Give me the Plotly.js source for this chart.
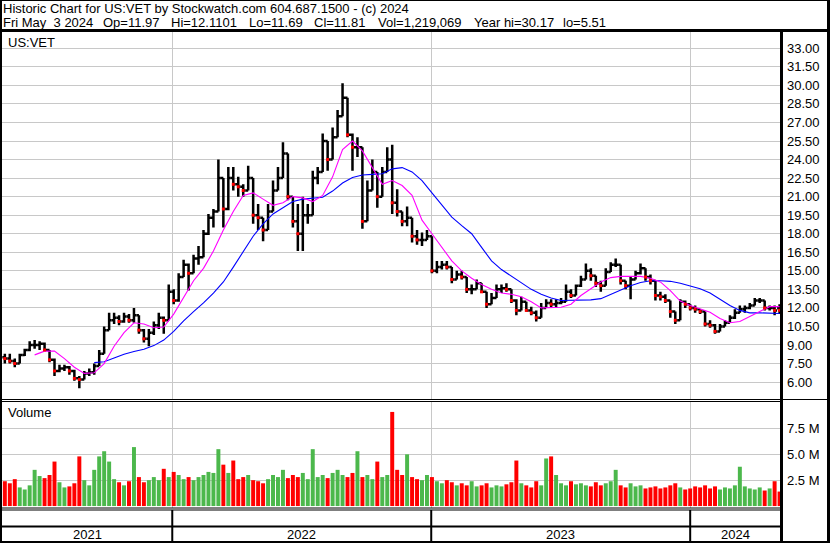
<!DOCTYPE html>
<html>
<head>
<meta charset="utf-8">
<script src="https://cdn.plot.ly/plotly-3.0.1.min.js"></script>
<style>html,body{margin:0;padding:0;background:#fff;}#chart{width:830px;height:543px;}</style>
</head>
<body>
<div id="chart"></div>
<script>
// ---- data (weekly) ----
const firstWeek = '2021-05-10';
const weekCount = 157;
const openP = [8.0,7.9,7.7,7.5,8.2,8.6,9.0,9.0,9.1,8.6,
7.8,6.9,7.1,7.2,6.9,6.3,6.2,6.7,6.8,7.3,
8.3,10.2,11.0,11.2,10.9,11.3,11.0,11.4,10.2,9.5,
10.0,10.6,11.2,11.0,13.3,12.6,14.5,15.5,14.8,16.0,
16.1,18.0,19.3,19.8,22.5,20.0,22.5,22.0,21.8,21.5,
22.5,19.5,19.3,18.3,19.8,21.5,22.5,24.5,21.0,19.0,
18.0,19.5,19.5,22.5,23.0,25.5,24.0,25.8,27.5,29.0,
26.0,25.0,25.0,19.0,21.5,23.0,21.0,23.0,24.0,20.5,
19.8,19.0,19.3,17.8,17.5,17.5,17.8,15.0,15.3,15.5,
15.3,14.3,14.7,14.5,13.5,13.5,14.0,13.3,12.3,12.8,
13.5,13.6,13.5,12.6,11.8,12.5,11.8,11.6,11.2,12.0,
12.4,12.3,12.4,12.5,13.3,13.0,13.8,14.3,15.0,14.6,
14.0,13.8,14.9,15.5,15.5,14.2,13.8,14.3,14.8,15.2,
14.5,14.2,13.0,12.9,12.6,11.7,11.0,12.5,12.3,12.0,
11.9,11.7,10.7,10.6,10.1,10.5,10.8,11.2,11.6,11.9,
12.0,12.2,12.6,12.6,12.0,12.0,11.97];
const highP = [8.3,8.3,7.9,8.3,8.7,9.3,9.4,9.3,9.2,8.6,
7.9,7.4,7.4,7.3,7.0,6.5,6.9,7.1,7.5,8.6,
10.5,11.6,11.6,11.4,11.6,11.5,12.0,11.4,10.3,10.3,
10.9,11.6,11.3,13.9,13.5,14.8,15.9,15.6,16.3,17.0,
18.3,19.6,20.0,24.0,22.5,23.4,23.4,22.6,22.0,23.5,
22.5,20.4,19.3,20.4,22.3,23.4,25.4,24.5,21.0,20.4,
21.0,20.4,23.1,23.4,26.1,25.5,26.6,28.0,30.17,29.0,
26.1,25.8,25.0,22.3,24.0,23.0,23.4,25.0,25.2,21.6,
19.8,20.2,19.3,18.3,18.1,18.3,17.8,15.8,15.8,15.8,
15.3,15.0,15.0,14.5,13.9,14.3,14.0,13.3,13.2,13.9,
13.9,14.0,13.5,12.7,12.9,12.5,12.1,11.8,12.4,12.7,
12.7,12.7,12.8,13.9,13.5,13.9,14.6,15.6,15.2,14.6,
14.2,15.2,15.7,16.0,15.5,14.2,14.5,15.0,15.6,15.2,
14.7,14.2,13.3,13.1,12.6,11.7,12.7,12.6,12.3,12.2,
11.9,11.7,11.0,10.7,10.7,11.0,11.4,11.9,12.2,12.2,
12.4,12.8,12.8,12.6,12.2,12.2,12.3];
const lowP = [7.5,7.5,7.2,7.5,8.1,8.5,8.7,8.6,8.5,7.6,
6.5,6.8,6.9,6.6,6.1,5.51,6.2,6.5,6.6,7.3,
8.3,10.2,10.7,10.6,10.8,10.8,10.8,9.9,9.2,8.9,
9.8,10.3,9.9,11.0,12.3,12.5,14.5,13.4,14.8,15.5,
16.1,17.9,18.5,19.8,18.5,19.9,21.5,21.0,21.0,21.5,
18.8,18.3,17.4,18.3,19.8,21.5,22.5,20.7,18.5,16.6,
16.6,18.8,19.5,22.0,23.0,23.1,24.0,25.8,27.5,25.8,
23.1,24.2,18.4,19.0,21.5,20.1,21.0,23.0,19.6,19.4,
18.6,18.6,17.3,17.1,17.0,17.5,14.8,14.8,15.1,15.1,
14.0,14.3,14.3,13.2,13.1,13.5,13.2,12.0,12.3,12.8,
13.2,13.3,12.4,11.4,11.8,11.7,11.4,10.9,11.2,12.0,
12.0,12.0,12.3,12.5,12.8,13.0,13.7,14.3,14.2,13.7,
13.3,13.8,14.9,15.3,13.9,13.5,12.7,14.3,14.7,14.2,
13.9,12.6,12.6,12.4,11.2,10.7,11.0,12.0,11.8,11.6,
11.5,10.5,10.4,9.9,10.1,10.5,10.8,11.1,11.6,11.6,
11.9,12.2,12.4,11.8,11.8,11.4,11.5];
const closeP = [7.9,7.7,7.5,8.2,8.6,9.0,9.0,9.1,8.6,7.8,
6.9,7.1,7.2,6.9,6.3,6.2,6.7,6.8,7.3,8.3,
10.2,11.0,11.2,10.9,11.3,11.0,11.4,10.2,9.5,10.0,
10.6,11.2,11.0,13.3,12.6,14.5,15.5,14.8,16.0,16.1,
18.0,19.3,19.8,22.5,20.0,22.5,22.0,21.8,21.5,22.5,
19.5,19.3,18.3,19.8,21.5,22.5,24.5,21.0,19.0,18.0,
19.5,19.5,22.5,23.0,25.5,24.0,25.8,27.5,29.0,26.0,
25.0,25.0,19.0,21.5,23.0,21.0,23.0,24.0,20.5,19.8,
19.0,19.3,17.8,17.5,17.5,17.8,15.0,15.3,15.5,15.3,
14.3,14.7,14.5,13.5,13.5,14.0,13.3,12.3,12.8,13.5,
13.6,13.5,12.6,11.8,12.5,11.8,11.6,11.2,12.0,12.4,
12.3,12.4,12.5,13.3,13.0,13.8,14.3,15.0,14.6,14.0,
13.8,14.9,15.5,15.5,14.2,13.8,14.3,14.8,15.2,14.5,
14.2,13.0,12.9,12.6,11.7,11.0,12.5,12.3,12.0,11.9,
11.7,10.7,10.6,10.1,10.5,10.8,11.2,11.6,11.9,12.0,
12.2,12.6,12.6,12.0,12.0,11.8,11.81];
// volume in millions of shares
const volumeM = [2.4,2.2,2.6,1.8,1.6,2.0,3.5,2.9,2.7,3.0,
4.3,2.3,1.8,1.9,2.2,4.8,2.5,2.0,3.5,4.8,
5.3,4.3,2.6,2.3,2.0,2.4,5.7,2.8,2.3,2.5,
2.8,2.5,3.6,2.8,3.3,3.0,2.6,2.8,2.5,2.8,
3.0,3.3,3.2,5.5,4.0,3.2,4.4,2.6,2.8,3.0,
2.5,2.4,2.2,2.6,3.0,2.8,3.5,2.7,3.0,2.8,
3.2,2.6,5.5,2.8,3.0,2.7,3.2,3.5,3.0,2.8,
3.2,5.3,2.8,3.0,2.6,4.3,2.8,3.0,9.1,3.5,
3.0,5.0,2.8,2.6,2.5,3.0,2.8,2.4,2.2,2.5,
2.3,2.0,2.2,2.0,2.4,1.9,2.0,2.2,1.8,2.0,
1.9,2.1,2.3,4.4,2.2,2.0,1.8,2.4,2.0,4.6,
4.8,3.0,2.2,2.0,2.4,2.1,2.2,2.0,1.9,2.3,
2.0,2.2,2.4,3.5,2.0,1.8,2.2,1.9,2.0,1.7,
1.8,1.9,1.7,1.8,2.0,2.2,1.8,1.6,1.7,1.9,
1.8,2.0,1.7,1.9,1.6,1.8,1.7,2.0,3.8,1.9,
1.7,1.6,1.8,1.5,1.7,2.4,1.4];
// moving averages, read every second week
const pinkStartWeek = 6;
const pinkMA = [8.2,8.5,8.5,7.9,7.2,6.7,6.75,7.5,8.9,10.0,
10.8,10.7,10.4,10.45,11.5,12.8,14.2,15.2,16.6,18.3,
19.8,21.1,21.3,20.8,20.3,20.5,21.0,20.9,20.6,21.1,
22.6,24.8,25.5,24.7,23.4,22.0,22.3,21.9,21.1,19.1,
18.0,16.9,15.8,15.0,14.4,13.9,13.5,13.2,13.1,12.9,
12.5,12.0,12.0,12.05,12.3,13.0,13.55,14.1,14.45,14.55,
14.55,14.55,14.4,14.1,13.4,12.55,12.2,11.9,11.65,11.15,
10.8,10.9,11.3,11.75,12.1,12.1];
const blueStartWeek = 18;
const blueMA = [7.57,7.65,7.95,8.25,8.47,8.65,8.95,9.4,10.1,10.95,
11.7,12.4,13.2,14.1,15.3,16.6,17.8,18.8,19.6,20.1,
20.6,20.8,20.85,20.95,21.45,22.1,22.55,22.75,22.8,22.85,
23.25,23.35,23.0,22.3,21.3,20.3,19.35,18.65,18.0,16.9,
15.8,15.1,14.55,14.0,13.5,13.1,12.8,12.6,12.6,12.65,
12.65,12.75,13.1,13.5,13.8,14.05,14.2,14.2,14.15,14.0,
13.8,13.55,13.2,12.7,12.2,11.8,11.6,11.6,11.6,11.55];
const priceTicks = {start: 0, step: 1.5};
const volTickVals = [2.5, 5.0, 7.5];
const volTickText = ['2.5 M', '5.0 M', '7.5 M'];
const yearLabels = ['2021', '2022', '2023', '2024'];
const yearLabelDates = ['2021-09-03', '2022-07-02', '2023-07-02', '2024-03-05'];
const yearStarts = ['2022-01-01', '2023-01-01', '2024-01-01'];
const headerLine1 = 'Historic Chart for US:VET by Stockwatch.com 604.687.1500 - (c) 2024';
const headerFields = ['Fri May\u00a0\u00a03 2024', 'Op=11.97', 'Hi=12.1101', 'Lo=11.69', 'Cl=11.81',
  'Vol=1,219,069', 'Year hi=30.17', 'lo=5.51'];
const headerFieldPx = [2, 102, 170, 248, 313, 377, 473, 562];
const symbolLabel = 'US:VET';
const volumeLabel = 'Volume';

// ---- build ----
function addDays(s, n) {
  const d = new Date(s + 'T00:00:00Z');
  d.setUTCDate(d.getUTCDate() + n);
  return d.toISOString().slice(0, 10);
}
const weeks = [];
for (let i = 0; i < weekCount; i++) weeks.push(addDays(firstWeek, 7 * i));
const pinkX = pinkMA.map((_, k) => weeks[pinkStartWeek + 2 * k]);
const blueX = blueMA.map((_, k) => weeks[blueStartWeek + 2 * k]);
const volColors = closeP.map((c, i) => c < openP[i] ? '#ff0000' : '#4cb84c');
const downX = [], downY = [];
closeP.forEach((c, i) => { if (c < openP[i]) { downX.push(weeks[i]); downY.push(c); } });

const W = 830, H = 543;
const fx = p => p / W;
const fy = p => 1 - p / H;
const FONT = 'Liberation Sans, Arial, sans-serif';

const traces = [
  {type: 'bar', x: weeks, y: volumeM.map(v => v * 1e6), xaxis: 'x2', yaxis: 'y2',
   marker: {color: volColors, line: {width: 0}}, hoverinfo: 'skip'},
  {type: 'scatter', mode: 'lines', x: blueX, y: blueMA, xaxis: 'x', yaxis: 'y',
   line: {color: '#0000ff', width: 1.1}, hoverinfo: 'skip'},
  {type: 'scatter', mode: 'lines', x: pinkX, y: pinkMA, xaxis: 'x', yaxis: 'y',
   line: {color: '#ff00ff', width: 1.1}, hoverinfo: 'skip'},
  {type: 'ohlc', x: weeks, open: openP, high: highP, low: lowP, close: closeP,
   xaxis: 'x', yaxis: 'y', tickwidth: 0.5,
   increasing: {line: {color: '#000000', width: 2.5}},
   decreasing: {line: {color: '#000000', width: 2.5}}, hoverinfo: 'skip'},
  {type: 'scatter', mode: 'markers', x: downX, y: downY, xaxis: 'x', yaxis: 'y',
   marker: {color: '#ff0000', size: 3, symbol: 'square'}, hoverinfo: 'skip'}
];

const xRange = ['2021-05-06', '2024-05-08'];
const xCommon = {
  type: 'date', range: xRange, domain: [fx(2), fx(781)],
  showticklabels: false, ticks: '', tickmode: 'array', tickvals: yearStarts,
  showgrid: true, gridcolor: '#c8c8c8', gridwidth: 1, zeroline: false, showline: false,
  rangeslider: {visible: false}, fixedrange: true
};

const shapes = [];
function hline(y, x0, x1, w) { shapes.push({type: 'line', xref: 'paper', yref: 'paper', x0: fx(x0), x1: fx(x1), y0: fy(y), y1: fy(y), line: {color: '#000', width: w}}); }
function vline(x, y0, y1, w) { shapes.push({type: 'line', xref: 'paper', yref: 'paper', x0: fx(x), x1: fx(x), y0: fy(y0), y1: fy(y1), line: {color: '#000', width: w}}); }
hline(30.5, 0, 830, 3);
hline(399.5, 0, 830, 1);
hline(401.5, 0, 781, 1);
hline(508, 0, 781, 1);
hline(510, 0, 781, 1);
hline(526.5, 0, 781, 2);
hline(542, 0, 830, 2);
hline(0.5, 0, 830, 1);
vline(1, 0, 543, 2);
vline(828.5, 0, 543, 3);
vline(781.5, 31, 543, 3);
yearStarts.forEach(d => shapes.push({type: 'line', xref: 'x', yref: 'paper', x0: d, x1: d, y0: fy(510), y1: fy(542), line: {color: '#000', width: 2}}));

const annotations = [
  {text: headerLine1, x: fx(2), y: fy(0), xanchor: 'left', yanchor: 'top'},
  {text: symbolLabel, x: fx(7), y: fy(34), xanchor: 'left', yanchor: 'top'},
  {text: volumeLabel, x: fx(7), y: fy(404), xanchor: 'left', yanchor: 'top'}
];
headerFields.forEach((t, i) => annotations.push({text: t, x: fx(headerFieldPx[i]), y: fy(14), xanchor: 'left', yanchor: 'top'}));
annotations.forEach(a => Object.assign(a, {xref: 'paper', yref: 'paper', showarrow: false, borderpad: 0,
  font: {family: FONT, size: 13, color: '#000'}}));
yearLabels.forEach((t, i) => annotations.push({text: t, x: yearLabelDates[i], xref: 'x', y: fy(534.5), yref: 'paper',
  yanchor: 'middle', xanchor: 'center', showarrow: false, font: {family: FONT, size: 13, color: '#000'}}));

const layout = {
  width: W, height: H, margin: {l: 0, r: 0, t: 0, b: 0},
  paper_bgcolor: '#ffffff', plot_bgcolor: '#ffffff', showlegend: false,
  font: {family: FONT, size: 13, color: '#000'},
  bargap: 0.2,
  xaxis: Object.assign({}, xCommon, {anchor: 'y'}),
  xaxis2: Object.assign({}, xCommon, {anchor: 'y2', matches: 'x'}),
  yaxis: {domain: [fy(400), fy(31)], range: [4.55, 34.4], side: 'right', anchor: 'x',
    tick0: priceTicks.start, dtick: priceTicks.step, tickformat: '.2f', ticks: '',
    showgrid: true, gridcolor: '#c8c8c8', zeroline: false, showline: false, ticklabelstandoff: 5,
    tickfont: {family: FONT, size: 13, color: '#000'}, fixedrange: true},
  yaxis2: {domain: [fy(508), fy(402)], range: [-0.19e6, 10.06e6], side: 'right', anchor: 'x2',
    tickmode: 'array', tickvals: volTickVals.map(v => v * 1e6), ticktext: volTickText, ticks: '',
    showgrid: true, gridcolor: '#c8c8c8', zeroline: false, showline: false, ticklabelstandoff: 5,
    tickfont: {family: FONT, size: 13, color: '#000'}, fixedrange: true},
  shapes: shapes,
  annotations: annotations
};

Plotly.newPlot('chart', traces, layout, {staticPlot: true, displayModeBar: false});
</script>
</body>
</html>
